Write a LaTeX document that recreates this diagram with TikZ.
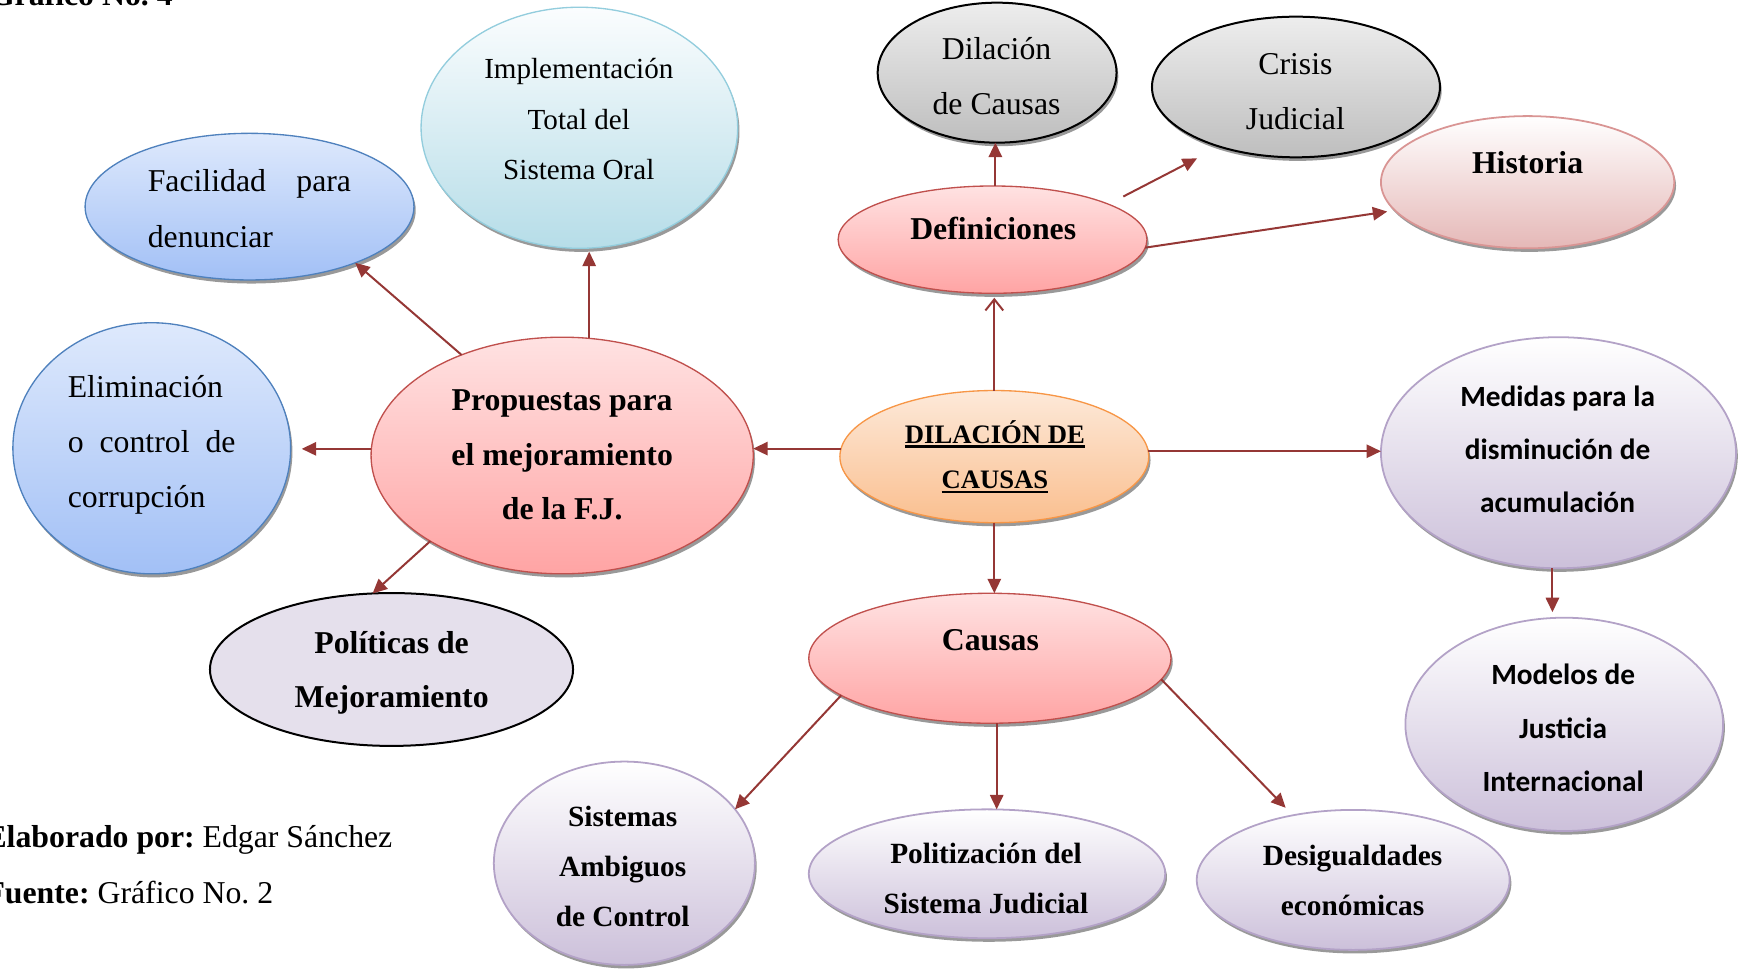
\documentclass[tikz,border=0pt]{standalone}
\usepackage{fontspec}
\setmainfont{Liberation Serif}
\newfontfamily\calfont{Carlito}
\usetikzlibrary{shapes.geometric,shadows,arrows.meta,calc}
\definecolor{arr}{HTML}{953735}
\definecolor{pinkD}{HTML}{C0504D}\definecolor{pinkT}{HTML}{FFE2E2}\definecolor{pinkB}{HTML}{FFA4A4}
\definecolor{blueD}{HTML}{4F81BD}\definecolor{blueT}{HTML}{DEE9FC}\definecolor{blueB}{HTML}{A2C0F6}
\definecolor{cyanD}{HTML}{93CDDD}\definecolor{cyanT}{HTML}{FBFDFE}\definecolor{cyanB}{HTML}{B6DDE8}
\definecolor{greyT}{HTML}{EDEDED}\definecolor{greyB}{HTML}{BEBEBE}
\definecolor{roseD}{HTML}{D99594}\definecolor{roseB}{HTML}{E5B8B7}
\definecolor{oranD}{HTML}{F79646}\definecolor{oranT}{HTML}{FDE9D9}\definecolor{oranB}{HTML}{FABF8F}
\definecolor{lavD}{HTML}{B3A2C7}\definecolor{lavB}{HTML}{CCC0DA}
\definecolor{polF}{HTML}{E5E0EC}
\newcommand\ulx[1]{\setbox0=\hbox{#1}\rlap{\vrule height -0.9pt depth 1.9pt width \wd0}\box0}
\frenchspacing
\begin{document}
\begin{tikzpicture}[x=0.5pt,y=-0.5pt,
  ell/.style={ellipse, inner sep=0pt, outer sep=0pt, line width=0.6pt},
  shad/.style={drop shadow={shadow xshift=0.8pt, shadow yshift=-1.6pt, fill=black!40, opacity=1}},
  pinkell/.style={ell, shad, draw=pinkD, top color=pinkT, bottom color=pinkB},
  blueell/.style={ell, shad, draw=blueD, top color=blueT, bottom color=blueB},
  cyanell/.style={ell, shad, draw=cyanD, top color=cyanT, bottom color=cyanB},
  greyell/.style={ell, shad, draw=black, line width=0.9pt, top color=greyT, bottom color=greyB},
  roseell/.style={ell, shad, draw=roseD, line width=0.8pt, top color=white, bottom color=roseB},
  oranell/.style={ell, shad, draw=oranD, top color=oranT, bottom color=oranB},
  lavell/.style={ell, shad, draw=lavD, line width=0.8pt, top color=white, bottom color=lavB},
  polell/.style={ell, draw=black, line width=0.9pt, fill=polF},
  txt/.style={inner sep=0pt, outer sep=0pt, align=center, anchor=base, font=\fontsize{14.3pt}{24.8pt}\selectfont},
  btxt/.style={txt, font=\fontsize{14.3pt}{24.7pt}\selectfont\bfseries},
  stxt/.style={txt, font=\fontsize{13.2pt}{22.5pt}\selectfont\bfseries},
  ctxt/.style={txt, font=\fontsize{13.2pt}{24.2pt}\selectfont\calfont\bfseries},
  conn/.style={draw=arr, line width=0.9pt, -{Triangle[length=6.5pt,width=6pt]}},
  openconn/.style={draw=arr, line width=0.9pt, -{Straight Barb[length=5pt,width=8pt]}},
]
\useasboundingbox (0,0) rectangle (1568,879);

% shapes
\node[cyanell, minimum width=142.5pt, minimum height=108.5pt] (impl) at (521.5,115) {};
\node[blueell, minimum width=148pt, minimum height=66pt] (fac) at (224.6,186) {};
\node[blueell, minimum width=125pt, minimum height=113pt] (elim) at (136.6,403.5) {};
\node[pinkell, minimum width=172pt, minimum height=106.5pt] (prop) at (506,410) {};
\node[polell, minimum width=163.4pt, minimum height=68.8pt] (pol) at (352.4,602.6) {};
\node[greyell, minimum width=107.5pt, minimum height=63pt] (dc) at (897.5,65.4) {};
\node[greyell, minimum width=129.6pt, minimum height=63.3pt] (crisis) at (1166.5,78.3) {};
\node[roseell, minimum width=132pt, minimum height=59.5pt] (hist) at (1375,164) {};
\node[pinkell, minimum width=139pt, minimum height=48.3pt] (def) at (893.4,215.7) {};
\node[oranell, minimum width=139pt, minimum height=59.5pt] (dil) at (895,411) {};
\node[lavell, minimum width=159.8pt, minimum height=104pt] (med) at (1402.8,407.5) {};
\node[lavell, minimum width=143pt, minimum height=96pt] (mod) at (1408,652) {};
\node[pinkell, minimum width=163pt, minimum height=58.5pt] (causas) at (891,592.5) {};
\node[lavell, minimum width=117.5pt, minimum height=91.5pt] (sis) at (562,777) {};
\node[lavell, minimum width=160.4pt, minimum height=58pt] (poli) at (888.4,786.5) {};
\node[lavell, minimum width=140.8pt, minimum height=63pt] (desig) at (1218,792) {};

% texts (anchor=base is the baseline of the last line)
\node[btxt, anchor=base west] (title) at (-9,4.5) {Gráfico No. 4};
\node[txt, font=\fontsize{13.1pt}{22.9pt}\selectfont] (implt) at (521,162) {Implementación\\Total del\\Sistema Oral};
\node[txt, anchor=base west, align=left, font=\fontsize{14.3pt}{25pt}\selectfont] (fact) at (133,222.5) {\makebox[91.5pt][l]{Facilidad\hfill para}\\denunciar};
\node[txt, anchor=base west, align=left, font=\fontsize{14.3pt}{24.65pt}\selectfont] (elimt) at (61,456.6) {Eliminación\\\makebox[75.5pt][l]{o\hfill control\hfill de}\\corrupción};
\node[btxt] (propt) at (506,468) {Propuestas para\\el mejoramiento\\de la F.J.};
\node[btxt, font=\fontsize{14.3pt}{24.5pt}\selectfont\bfseries] (polt) at (352.5,637) {Políticas de\\Mejoramiento};
\node[txt] (dct) at (897,103.5) {Dilación\\de Causas};
\node[txt] (crisist) at (1166,116.4) {Crisis\\Judicial};
\node[btxt] (histt) at (1375,156) {Historia};
\node[btxt] (deft) at (894,215.4) {Definiciones};
\node[txt, font=\fontsize{12pt}{20.5pt}\selectfont\bfseries] (dilt) at (895.5,440) {\ulx{DILACIÓN DE}\\\ulx{CAUSAS}};
\node[ctxt, font=\fontsize{13.2pt}{23.9pt}\selectfont\calfont\bfseries] (medt) at (1402,461.5) {Medidas para la\\disminución de\\acumulación};
\node[ctxt] (modt) at (1407,712.7) {Modelos de\\Justicia\\Internacional};
\node[btxt] (causast) at (891.5,585.7) {Causas};
\node[stxt, font=\fontsize{13.2pt}{22.6pt}\selectfont\bfseries] (sist) at (560.5,834) {Sistemas\\Ambiguos\\de Control};
\node[stxt] (polit) at (887.5,822) {Politización del\\Sistema Judicial};
\node[stxt] (desigt) at (1217.5,823.6) {Desigualdades\\económicas};
\node[txt, anchor=base west, align=left, font=\fontsize{14.3pt}{25.2pt}\selectfont] (foot) at (-13,813) {\textbf{Elaborado por:} Edgar Sánchez\\\textbf{Fuente:} Gráfico No. 2};

% connectors
\coordinate (crisisin) at (1077.5,142.5);
\draw[conn] (prop.135.7) -- (fac.-28.5);
\draw[conn, shorten >=1.5pt] (prop.77.4) -- (prop.77.4 |- impl.south);
\draw[conn, shorten >=5pt] (prop.178) -- (prop.178 -| elim.east);
\draw[conn] (prop.-147.6) -- (pol.104);
\draw[conn] (dil.177.2) -- (dil.177.2 -| prop.east);
\draw[conn] (dil.2.8) -- (dil.2.8 -| med.west);
\draw[openconn, shorten >=2pt] (dil.north) -- (dil.north |- def.south);
\draw[conn] (dil.south) -- (dil.south |- causas.north);
\draw[conn] (def.87) -- (def.87 |- dc.south);
\draw[conn, shorten <=7.5pt] (def.17.4) -- (crisisin);
\draw[conn, shorten >=3.5pt] (def.-3.4) -- (hist.192.3);
\draw[conn, shorten >=2.5pt] (med.-93.3) -- (med.-93.3 |- mod.north);
\draw[conn] (causas.194.8) -- (sis.26.4);
\draw[conn] (causas.-84.6) -- (causas.-84.6 |- poli.north);
\draw[conn, shorten >=4.7pt] (causas.-7.4) -- (desig.133.9);
\end{tikzpicture}
\end{document}
